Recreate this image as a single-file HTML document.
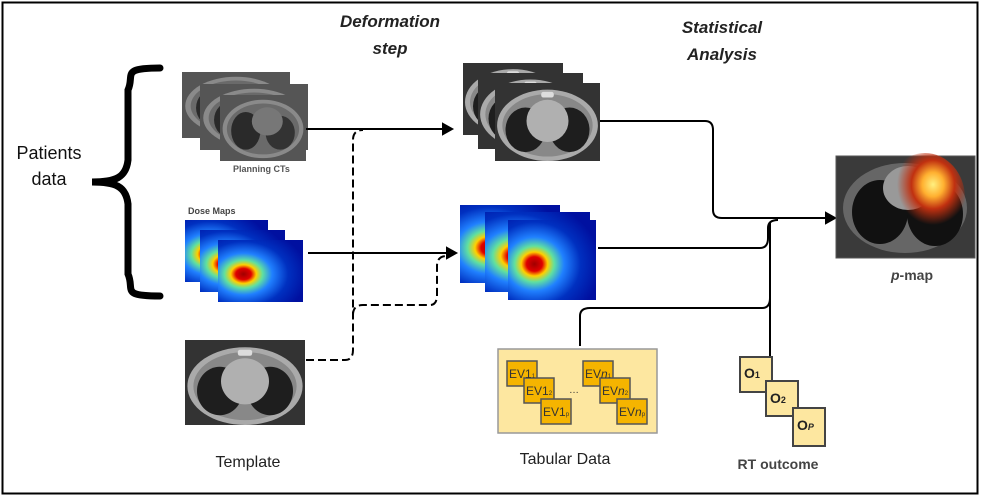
<!DOCTYPE html>
<html><head><meta charset="utf-8"><style>
html,body{margin:0;padding:0;background:#fff}
svg{display:block}
text{font-family:"Liberation Sans",sans-serif}
</style></head><body>
<svg width="983" height="500" viewBox="0 0 983 500">
<defs>
  <radialGradient id="dose" cx="30%" cy="55%" r="75%">
    <stop offset="0" stop-color="#a00000"/><stop offset="0.12" stop-color="#e00000"/><stop offset="0.2" stop-color="#ffd000"/><stop offset="0.3" stop-color="#60e0a0"/><stop offset="0.45" stop-color="#2080ff"/><stop offset="0.7" stop-color="#0030c0"/><stop offset="1" stop-color="#0010a0"/>
  </radialGradient>
  <radialGradient id="pm" cx="60%" cy="35%" r="45%">
    <stop offset="0" stop-color="#fff080"/><stop offset="0.3" stop-color="#ffb030"/><stop offset="0.6" stop-color="#c03010"/><stop offset="1" stop-color="#c03010" stop-opacity="0"/>
  </radialGradient>
  <symbol id="ctA" viewBox="0 0 100 70" preserveAspectRatio="none">
    <rect width="100" height="70" fill="#555"/>
    <ellipse cx="50" cy="36" rx="47" ry="31" fill="#8a8a8a"/>
    <ellipse cx="50" cy="36" rx="42" ry="27" fill="#6a6a6a"/>
    <ellipse cx="30" cy="38" rx="17" ry="20" fill="#2a2a2a"/>
    <ellipse cx="70" cy="40" rx="17" ry="18" fill="#333"/>
    <ellipse cx="55" cy="28" rx="18" ry="15" fill="#777"/>
  </symbol>
  <symbol id="ctB" viewBox="0 0 100 70" preserveAspectRatio="none">
    <rect width="100" height="70" fill="#333"/>
    <ellipse cx="50" cy="38" rx="48" ry="32" fill="#aaa"/>
    <ellipse cx="50" cy="38" rx="43" ry="28" fill="#888"/>
    <ellipse cx="29" cy="42" rx="19" ry="20" fill="#1e1e1e"/>
    <ellipse cx="71" cy="42" rx="19" ry="20" fill="#1e1e1e"/>
    <ellipse cx="50" cy="34" rx="20" ry="19" fill="#b0b0b0"/>
    <rect x="44" y="8" width="12" height="5" rx="2" fill="#ddd"/>
  </symbol>
</defs>
<rect x="2.5" y="2.5" width="975" height="491" fill="#fff" stroke="#000" stroke-width="2"/>

<text x="390" y="27" text-anchor="middle" font-size="17" font-weight="bold" font-style="italic" fill="#222">Deformation</text>
<text x="390" y="54" text-anchor="middle" font-size="17" font-weight="bold" font-style="italic" fill="#222">step</text>
<text x="722" y="33" text-anchor="middle" font-size="17" font-weight="bold" font-style="italic" fill="#222">Statistical</text>
<text x="722" y="60" text-anchor="middle" font-size="17" font-weight="bold" font-style="italic" fill="#222">Analysis</text>

<g>
<text x="49" y="159" text-anchor="middle" font-size="18" fill="#111">Patients</text>
<text x="49" y="185" text-anchor="middle" font-size="18" fill="#111">data</text>
</g>
<path d="M160,68 C120,68 135,75 128,90 L128,160 C126,178 115,182 92,182 C115,182 126,186 128,204 L128,274 C135,290 120,296 160,296" fill="none" stroke="#000" stroke-width="7" stroke-linecap="round"/>

<g>
<use href="#ctA" x="182" y="72" width="108" height="66"/>
<use href="#ctA" x="200" y="84" width="108" height="66"/>
<use href="#ctA" x="220" y="95" width="86" height="66"/>
<text x="233" y="172" font-size="9" font-weight="bold" fill="#555">Planning CTs</text>
</g>
<g>
<text x="188" y="214" font-size="9" font-weight="bold" fill="#444">Dose Maps</text>
<rect x="185" y="220" width="83" height="62" fill="url(#dose)"/>
<rect x="200" y="230" width="85" height="62" fill="url(#dose)"/>
<rect x="218" y="240" width="85" height="62" fill="url(#dose)"/>
</g>
<g>
<use href="#ctB" x="185" y="340" width="120" height="85"/>
<text x="248" y="467" text-anchor="middle" font-size="16" fill="#222">Template</text>
</g>

<g>
<use href="#ctB" x="463" y="63" width="100" height="72"/>
<use href="#ctB" x="478" y="73" width="105" height="76"/>
<use href="#ctB" x="495" y="83" width="105" height="78"/>
</g>
<g>
<rect x="460" y="205" width="100" height="78" fill="url(#dose)"/>
<rect x="485" y="212" width="105" height="80" fill="url(#dose)"/>
<rect x="508" y="220" width="88" height="80" fill="url(#dose)"/>
</g>

<g fill="none" stroke="#000" stroke-width="2">
<path d="M306,129 L443,129"/><path d="M443,124 L452,129 L443,134 Z" fill="#000"/>
<path d="M308,253 L447,253"/><path d="M447,248 L456,253 L447,258 Z" fill="#000"/>
<path d="M306,360 L345,360 Q353,360 353,350 L353,140 Q353,130 363,130" stroke-dasharray="8,4"/>
<path d="M353,315 Q353,305 363,305 L430,305 Q437,305 437,295 L437,266 Q437,256 447,256" stroke-dasharray="8,4"/>
<path d="M600,121 L705,121 Q713,121 713,130 L713,210 Q713,218 722,218 L826,218"/>
<path d="M826,213 L835,218 L826,223 Z" fill="#000"/>
<path d="M598,248 L760,248 Q768,248 768,238 L768,228 Q768,220 778,220"/>
<path d="M580,346 L580,316 Q580,308 590,308 L762,308 Q770,308 770,298"/>
<path d="M770,222 L770,370"/>
</g>

<g>
<rect x="836" y="156" width="139" height="102" fill="#3a3a3a" stroke="#555"/>
<ellipse cx="905" cy="208" rx="62" ry="45" fill="#666"/>
<ellipse cx="880" cy="212" rx="28" ry="32" fill="#111"/>
<ellipse cx="935" cy="214" rx="28" ry="32" fill="#111"/>
<ellipse cx="908" cy="188" rx="25" ry="22" fill="#999"/>
<ellipse cx="925" cy="198" rx="40" ry="45" fill="url(#pm)"/>
<text x="912" y="280" text-anchor="middle" font-size="14" font-weight="bold" fill="#444"><tspan font-style="italic">p</tspan>-map</text>
</g>

<g>
<rect x="498" y="349" width="159" height="84" fill="#fde7a0" stroke="#999" stroke-width="1.5"/>
<g fill="#f5b400" stroke="#555" stroke-width="1.5">
<rect x="507" y="361" width="30" height="25"/><rect x="524" y="378" width="30" height="25"/><rect x="541" y="399" width="30" height="25"/>
<rect x="583" y="361" width="30" height="25"/><rect x="600" y="378" width="30" height="25"/><rect x="617" y="399" width="30" height="25"/>
</g>
<g font-size="12" fill="#333">
<text x="509" y="378">EV1<tspan font-size="6">1</tspan></text>
<text x="526" y="395">EV1<tspan font-size="6">2</tspan></text>
<text x="543" y="416">EV1<tspan font-size="6">p</tspan></text>
<text x="585" y="378">EV<tspan font-style="italic">n</tspan><tspan font-size="6">1</tspan></text>
<text x="602" y="395">EV<tspan font-style="italic">n</tspan><tspan font-size="6">2</tspan></text>
<text x="619" y="416">EV<tspan font-style="italic">n</tspan><tspan font-size="6">p</tspan></text>
<text x="569" y="393" font-size="10">…</text>
</g>
<text x="565" y="464" text-anchor="middle" font-size="16" fill="#222">Tabular Data</text>
</g>

<g>
<g fill="#fde7a0" stroke="#444" stroke-width="2">
<rect x="740" y="357" width="32" height="35"/><rect x="766" y="381" width="32" height="35"/><rect x="793" y="408" width="32" height="38"/>
</g>
<g font-size="14" font-weight="bold" fill="#222">
<text x="744" y="378">O<tspan font-size="9">1</tspan></text>
<text x="770" y="403">O<tspan font-size="9">2</tspan></text>
<text x="797" y="430">O<tspan font-size="9" font-style="italic">P</tspan></text>
</g>
<text x="778" y="469" text-anchor="middle" font-size="14" font-weight="bold" fill="#444">RT outcome</text>
</g>
</svg>
</body></html>
